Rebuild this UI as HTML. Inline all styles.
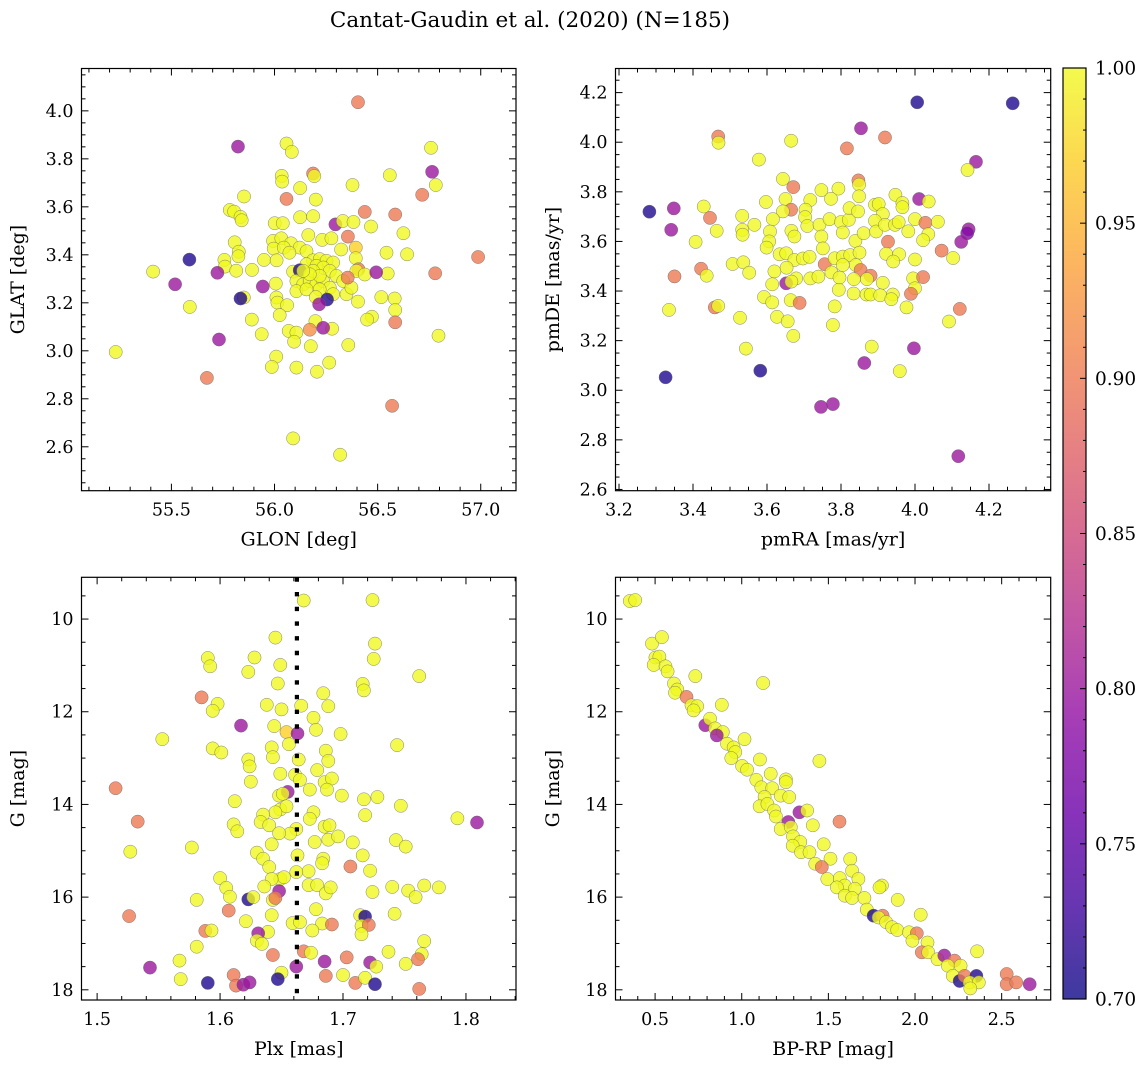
<!DOCTYPE html>
<html><head><meta charset="utf-8">
<style>
html,body{margin:0;padding:0;background:#fff;}
svg{display:block;font-family:"DejaVu Serif","Liberation Serif",serif;}
</style></head>
<body>
<svg id="fig" width="1148" height="1067" viewBox="0 0 1148 1067" xmlns="http://www.w3.org/2000/svg">
<text x="530" y="27" font-size="21.5" text-anchor="middle">Cantat-Gaudin et al. (2020) (N=185)</text>
</svg>
<script>
// ---------- Panel 1: GLON vs GLAT ----------
const p1Glon = [56.405,55.823,56.058,56.084,56.759,56.764,56.187,56.193,56.035,56.037,56.559,56.782,56.378,56.124,55.852,56.058,56.200,56.716,55.783,55.804,55.835,55.841,56.438,56.585,56.124,56.187,56.001,56.040,56.295,56.331,56.383,56.468,56.625,56.164,56.356,56.231,56.276,55.807,
55.993,56.033,56.080,55.996,56.045,56.122,56.155,56.072,56.394,56.323,55.827,55.825,56.543,56.643,55.757,55.760,55.949,56.010,56.187,56.219,56.252,56.284,56.155,56.203,56.236,56.268,56.394,56.407,56.397,56.438,55.814,55.891,56.090,56.122,56.549,56.006,
56.106,56.139,56.171,56.203,56.236,56.268,56.300,56.333,56.106,56.155,56.219,56.284,56.349,56.373,56.355,56.187,56.219,56.171,56.139,
55.851,56.009,56.014,56.061,56.025,56.200,56.405,56.518,56.583,56.585,55.890,55.938,56.472,56.449,56.198,56.171,56.069,56.106,56.095,56.279,56.176,56.358,56.008,55.987,56.106,56.206,56.265,
55.587,56.987,55.411,55.723,56.493,56.779,55.518,55.943,55.835,56.255,56.216,55.589,56.585,56.236,56.795,55.731,55.230,55.672,56.570,56.090,56.318];
const p1Glat = [4.036,3.851,3.864,3.829,3.846,3.746,3.739,3.728,3.729,3.705,3.732,3.691,3.691,3.678,3.643,3.633,3.630,3.650,3.587,3.580,3.558,3.544,3.579,3.568,3.557,3.561,3.532,3.532,3.527,3.541,3.537,3.518,3.490,3.482,3.476,3.462,3.469,3.452,
3.458,3.469,3.448,3.426,3.430,3.430,3.415,3.409,3.430,3.422,3.413,3.394,3.409,3.402,3.379,3.351,3.379,3.377,3.377,3.382,3.375,3.368,3.361,3.354,3.347,3.333,3.386,3.340,3.333,3.318,3.334,3.337,3.330,3.336,3.322,3.280,
3.291,3.277,3.291,3.277,3.291,3.263,3.312,3.291,3.249,3.256,3.256,3.236,3.236,3.263,3.305,3.333,3.312,3.319,3.333,
3.222,3.222,3.201,3.190,3.149,3.224,3.205,3.224,3.218,3.170,3.130,3.069,3.142,3.130,3.124,3.088,3.083,3.076,3.038,3.092,3.019,3.024,2.976,2.933,2.930,2.913,2.951,
3.380,3.391,3.330,3.325,3.327,3.323,3.277,3.268,3.218,3.214,3.194,3.183,3.119,3.096,3.063,3.047,2.995,2.887,2.771,2.635,2.567];
const p1Color = [0.9,0.8,1,1,1,0.8,0.9,1,1,1,1,1,1,1,1,0.9,1,0.9,1,1,1,1,0.9,0.9,1,1,1,1,0.8,1,1,1,1,1,0.9,1,1,1,
1,1,1,1,1,1,1,1,0.97,1,1,1,1,1,1,1,1,1,1,1,1,1,1,1,1,1,1,0.9,1,1,1,1,1,0.71,1,1,
1,1,1,1,1,1,1,1,1,1,1,1,1,1,0.9,1,1,1,1,
1,1,1,1,1,1,1,1,1,1,1,1,1,1,1,0.92,1,1,1,1,1,1,1,1,1,1,1,
0.71,0.9,1,0.8,0.8,0.9,0.8,0.8,0.71,0.71,0.8,1,0.9,0.8,1,0.8,1,0.9,0.9,1,1];

// ---------- Panel 2: pmRA vs pmDE ----------
const p2PmRA = [4.006,4.264,3.854,3.468,3.469,3.665,3.919,3.816,4.165,4.142,3.578,3.643,3.671,3.847,3.849,3.849,3.747,3.793,3.773,3.717,3.597,3.650,3.665,3.643,3.947,3.966,3.966,4.011,4.037,3.282,3.348,3.341,3.429,3.446,3.464,3.407,3.533,3.533,3.534,3.566,3.616,3.608,3.606,3.599,3.666,3.674,3.704,3.703,3.709,3.742,3.747,3.769,3.800,3.821,3.823,3.846,3.805,3.839,3.861,3.892,3.902,3.913,3.892,3.895,3.919,3.946,3.956,3.982,4.000,4.028,4.062,4.036,4.022,3.927,4.072,4.103,4.145,4.141,4.125,4.000,3.507,3.536,3.552,3.422,3.437,3.350,3.634,3.652,3.674,3.697,3.715,3.751,3.756,3.783,3.805,3.825,3.850,3.805,3.840,3.853,3.880,3.922,3.957,3.941,3.620,3.653,3.679,3.652,3.666,3.717,3.739,3.774,3.796,3.835,3.870,3.913,3.995,4.022,4.000,3.614,3.794,3.834,3.869,3.880,3.906,3.940,3.936,3.989,3.592,3.614,3.664,3.688,3.459,3.468,3.335,3.783,3.977,4.121,3.527,3.627,3.656,3.778,4.092,3.671,3.543,3.883,3.997,3.863,3.959,3.582,3.326,3.746,3.778,4.117];
const p2PmDE = [4.161,4.157,4.056,4.023,3.998,4.006,4.019,3.975,3.921,3.888,3.930,3.852,3.819,3.846,3.829,3.782,3.807,3.813,3.772,3.767,3.759,3.771,3.728,3.721,3.788,3.755,3.738,3.771,3.761,3.720,3.733,3.647,3.741,3.695,3.643,3.598,3.703,3.647,3.627,3.667,3.690,3.640,3.600,3.575,3.643,3.620,3.728,3.698,3.662,3.667,3.620,3.690,3.678,3.687,3.734,3.721,3.636,3.602,3.633,3.748,3.751,3.710,3.683,3.640,3.667,3.667,3.678,3.641,3.690,3.675,3.679,3.629,3.605,3.599,3.563,3.533,3.649,3.633,3.598,3.527,3.509,3.516,3.474,3.490,3.462,3.459,3.548,3.552,3.525,3.531,3.538,3.572,3.508,3.532,3.539,3.545,3.555,3.505,3.505,3.485,3.462,3.550,3.548,3.519,3.479,3.494,3.451,3.431,3.438,3.451,3.458,3.475,3.454,3.448,3.448,3.433,3.451,3.456,3.411,3.427,3.405,3.390,3.386,3.386,3.383,3.386,3.367,3.389,3.376,3.354,3.363,3.352,3.334,3.340,3.324,3.338,3.334,3.328,3.292,3.296,3.278,3.263,3.277,3.219,3.168,3.176,3.169,3.110,3.077,3.079,3.052,2.933,2.944,2.734];
const p2Color = [0.71,0.71,0.8,0.9,1,1,0.9,0.9,0.8,1,1,1,0.9,0.9,1,1,1,1,1,1,1,1,0.9,1,1,1,1,0.8,1,0.71,0.8,0.8,1,0.9,1,1,1,1,1,1,1,1,1,1,1,1,1,1,1,1,1,1,1,1,1,1,1,1,1,1,1,1,1,1,1,1,1,1,1,0.9,1,1,1,0.9,0.9,1,0.8,0.78,0.8,1,1,1,1,0.9,1,0.9,1,1,1,1,1,1,0.9,1,1,1,1,1,1,0.9,0.9,1,1,1,1,1,1,0.8,1,1,1,1,1,1,1,1,1,0.9,1,1,1,1,1,1,1,1,1,0.9,1,1,1,0.9,0.9,1,1,1,1,0.9,1,1,1,1,1,1,1,1,0.8,0.8,1,0.71,0.71,0.8,0.8,0.8];

// ---------- Panel 3: Plx vs G ----------
const p3Plx = [1.668,1.724,1.645,1.726,1.725,1.590,1.592,1.628,1.623,1.649,1.762,1.647,1.716,1.717,1.585,1.598,1.594,1.684,1.688,1.638,1.650,1.666,1.617,1.644,1.676,1.678,1.654,1.663,1.698,1.553,1.656,1.594,1.601,1.642,1.643,1.744,1.686,1.688,1.623,1.624,1.664,1.679,1.649,1.625,1.661,1.665,1.685,1.691,1.687,1.515,1.673,1.648,1.655,1.651,1.699,1.717,1.728,1.612,1.747,1.649,1.654,1.645,1.676,1.673,1.635,1.633,1.640,1.718,1.793,1.809,1.533,1.611,1.614,1.662,1.657,1.648,1.685,1.689,1.688,1.696,1.677,1.708,1.743,1.751,1.577,1.527,1.642,1.630,1.635,1.663,1.684,1.683,1.716,1.706,1.640,1.722,1.672,1.662,1.600,1.649,1.652,1.642,1.605,1.608,1.636,1.672,1.679,1.686,1.690,1.648,1.724,1.740,1.753,1.759,1.766,1.778,1.581,1.623,1.627,1.643,1.645,1.526,1.607,1.678,1.642,1.742,1.621,1.659,1.665,1.683,1.691,1.714,1.718,1.715,1.721,1.715,1.588,1.593,1.639,1.631,1.630,1.634,1.675,1.766,1.581,1.643,1.668,1.674,1.737,1.764,1.761,1.567,1.543,1.685,1.703,1.722,1.727,1.751,1.662,1.568,1.590,1.611,1.613,1.619,1.624,1.650,1.647,1.686,1.700,1.710,1.718,1.726,1.762];
const p3G = [9.60,9.59,10.40,10.53,10.86,10.84,11.02,10.83,11.14,10.99,11.23,11.39,11.40,11.54,11.69,11.83,11.98,11.60,11.88,11.85,11.95,11.87,12.30,12.31,12.13,12.39,12.44,12.47,12.48,12.59,12.70,12.79,12.88,12.77,12.98,12.72,12.84,13.06,13.03,13.18,13.03,13.26,13.34,13.51,13.36,13.47,13.52,13.44,13.68,13.65,13.68,13.81,13.73,13.77,13.81,13.89,13.84,13.93,14.03,14.11,14.04,14.17,14.17,14.31,14.22,14.38,14.45,14.23,14.30,14.39,14.37,14.43,14.58,14.53,14.63,14.62,14.48,14.45,14.76,14.69,14.81,14.82,14.77,14.91,14.93,15.02,14.86,15.04,15.17,15.10,15.17,15.27,15.10,15.34,15.35,15.43,15.44,15.46,15.59,15.61,15.57,15.61,15.80,15.99,15.77,15.74,15.74,15.92,15.79,15.87,15.89,15.78,15.86,16.00,15.75,15.79,16.06,16.05,16.00,16.06,16.02,16.41,16.29,16.26,16.39,16.36,16.52,16.56,16.54,16.57,16.59,16.39,16.42,16.62,16.60,16.80,16.73,16.72,16.75,16.78,16.94,17.01,16.72,16.95,17.07,17.25,17.17,17.20,17.18,17.23,17.34,17.37,17.52,17.39,17.30,17.41,17.50,17.44,17.50,17.77,17.85,17.68,17.91,17.89,17.84,17.63,17.77,17.70,17.68,17.85,17.74,17.88,17.98];
const p3Color = [1,1,1,1,1,1,1,1,1,1,1,1,1,1,0.9,1,1,1,1,1,1,1,0.8,1,1,1,0.97,0.8,1,1,1,1,1,1,1,1,1,1,1,1,1,1,1,1,1,1,1,1,1,0.9,1,1,0.8,1,1,1,1,1,1,1,1,1,1,1,1,1,1,1,1,0.8,0.9,1,1,1,1,1,1,1,1,1,1,1,1,1,1,1,1,1,1,1,1,1,1,0.9,1,1,1,1,1,1,1,1,1,1,1,1,1,1,1,0.8,1,1,1,1,1,1,1,0.71,1,1,0.9,0.9,0.9,1,1,1,1,1,1,1,0.9,1,0.71,1,0.9,1,0.9,1,1,0.8,1,1,1,1,1,0.9,0.9,1,1,1,0.9,1,0.8,0.8,0.9,0.8,1,1,0.8,1,0.71,0.9,0.9,0.8,0.8,1,0.71,0.9,1,0.9,1,0.71,0.9,1];

// ---------- Panel 4: BP-RP vs G ----------
const p4Color_bprp = [0.354,0.385,0.482,0.539,0.502,0.525,0.492,0.560,0.572,0.732,1.123,0.609,0.628,0.615,0.681,0.710,0.743,0.722,0.885,0.790,0.817,0.846,0.891,0.856,1.016,0.915,0.953,0.963,0.940,1.105,1.448,1.002,1.031,1.084,1.113,1.167,1.255,1.255,1.176,1.225,1.274,1.132,1.103,1.148,1.187,1.333,1.377,1.564,1.197,1.269,1.225,1.283,1.296,1.338,1.410,1.294,1.342,1.473,1.391,1.512,1.626,1.424,1.462,1.637,1.494,1.566,1.595,1.673,1.653,1.549,1.809,1.795,1.595,1.637,1.708,1.900,1.722,1.761,1.813,1.790,2.033,1.833,1.868,1.897,1.965,2.010,1.985,2.072,2.039,2.076,2.130,2.169,2.228,2.189,2.263,2.358,2.218,2.257,2.286,2.354,2.315,2.368,2.319,2.529,2.529,2.584,2.662];
const p4G = [9.61,9.59,10.53,10.39,10.83,10.81,10.99,11.02,11.13,11.23,11.38,11.39,11.52,11.59,11.68,11.86,11.88,11.97,11.85,12.29,12.15,12.36,12.44,12.51,12.59,12.69,12.77,12.87,13.00,13.03,13.06,13.17,13.25,13.47,13.63,13.34,13.46,13.52,13.65,13.81,13.84,13.84,14.04,13.99,14.13,14.17,14.13,14.37,14.26,14.38,14.53,14.49,14.69,14.81,14.45,14.89,15.03,14.86,15.03,15.17,15.18,15.28,15.35,15.43,15.61,15.59,15.75,15.61,15.82,15.79,15.75,15.79,15.97,16.02,16.02,16.06,16.27,16.40,16.40,16.44,16.38,16.54,16.65,16.71,16.76,16.78,16.94,16.98,17.19,17.19,17.34,17.26,17.37,17.48,17.48,17.17,17.70,17.81,17.70,17.70,17.84,17.84,17.97,17.66,17.88,17.84,17.88];
const p4Color = [1,1,1,1,1,1,1,1,1,1,1,1,1,1,0.9,1,1,1,1,0.8,1,1,1,0.8,1,1,1,1,1,1,1,1,1,1,1,1,1,1,1,1,1,1,1,1,1,0.8,1,0.9,1,0.8,1,1,1,1,1,1,1,1,1,1,1,1,0.9,1,1,1,1,1,1,1,1,1,1,1,1,1,1,0.71,0.9,1,1,1,1,1,1,0.9,1,1,0.9,1,1,0.8,0.9,1,1,1,1,0.71,0.9,0.71,1,1,1,0.9,0.9,0.9,0.8];

// tick definitions
const p1XTicks = [55.5,56.0,56.5,57.0];
const p1YTicks = [2.6,2.8,3.0,3.2,3.4,3.6,3.8,4.0];
const p2XTicks = [3.2,3.4,3.6,3.8,4.0,4.2];
const p2YTicks = [2.6,2.8,3.0,3.2,3.4,3.6,3.8,4.0,4.2];
const p3XTicks = [1.5,1.6,1.7,1.8];
const gTicks = [10,12,14,16,18];
const p4XTicks = [0.5,1.0,1.5,2.0,2.5];
const cbTicks = [0.70,0.75,0.80,0.85,0.90,0.95,1.00];
const plxMean = [1.6625];

const NS = "http://www.w3.org/2000/svg";
const svg = document.getElementById('fig');
function mk(tag, attrs, parent){
  const e = document.createElementNS(NS, tag);
  for (const k in attrs) e.setAttribute(k, attrs[k]);
  (parent||svg).appendChild(e);
  return e;
}
const stops = ["#0d0887","#41049d","#6a00a8","#8f0da4","#b12a90","#cc4778","#e16462","#f2844b","#fca636","#fcce25","#f0f921"];
function hex(h){return [parseInt(h.substr(1,2),16),parseInt(h.substr(3,2),16),parseInt(h.substr(5,2),16)];}
function plasma(v){
  let t = (v-0.7)/0.3; t=Math.max(0,Math.min(1,t));
  const f=t*10, i=Math.min(9,Math.floor(f)), r=f-i;
  const a=hex(stops[i]), b=hex(stops[i+1]);
  return "rgb("+a.map((c,j)=>Math.round(c+(b[j]-c)*r)).join(",")+")";
}

function panel(cfg){
  const {name, x0,x1,y0,y1, xmin,xmax,ymin,ymax, invertY, xs, ys, cs, xt, yt, xminor, yminor, xfmt, yfmt, xlabel, ylabel} = cfg;
  const sx = v => x0 + (v-xmin)/(xmax-xmin)*(x1-x0);
  const sy = invertY ? (v => y0 + (v-ymin)/(ymax-ymin)*(y1-y0)) : (v => y1 - (v-ymin)/(ymax-ymin)*(y1-y0));
  const g = mk('g', {});
  
  
  const clipId = name+'-clip';
  const cp = mk('clipPath',{id:clipId}, g);
  mk('rect',{x:x0,y:y0,width:x1-x0,height:y1-y0},cp);
  const pts = mk('g',{'clip-path':'url(#'+clipId+')'}, g);
  
  
  for (let i=0;i<xs.length;i++){
    const c = mk('circle',{cx:sx(xs[i]).toFixed(1), cy:sy(ys[i]).toFixed(1), r:6.6, fill:plasma(cs[i]), 'fill-opacity':0.8, stroke:'#666', 'stroke-width':0.5, 'stroke-opacity':0.8}, pts);
    
    
  }
  if (cfg.vline){
    const l = mk('line',{x1:sx(cfg.vline[0]),x2:sx(cfg.vline[0]),y1:y0,y2:y1,stroke:'#000','stroke-width':4.2,'stroke-dasharray':'4.4 10.3'}, g);
    
    
  }
  const tk = mk('g',{stroke:'#000','stroke-width':1}, g);
  const lo = Math.ceil(xmin/xminor-1e-6), hi = Math.floor(xmax/xminor+1e-6);
  for (let k=lo;k<=hi;k++){
    const v=k*xminor, px=sx(v);
    const major = xt.some(t=>Math.abs(t-v)<1e-6);
    const L = major?7:4;
    mk('line',{x1:px,x2:px,y1:y1,y2:y1-L},tk);
    mk('line',{x1:px,x2:px,y1:y0,y2:y0+L},tk);
  }
  const ylo = Math.ceil(ymin/yminor-1e-6), yhi = Math.floor(ymax/yminor+1e-6);
  for (let k=ylo;k<=yhi;k++){
    const v=k*yminor, py=sy(v);
    const major = yt.some(t=>Math.abs(t-v)<1e-6);
    const L = major?7:4;
    mk('line',{x1:x0,x2:x0+L,y1:py,y2:py},tk);
    mk('line',{x1:x1,x2:x1-L,y1:py,y2:py},tk);
  }
  for (const v of xt){
    const t = mk('text',{x:sx(v),y:y1+25,'font-size':17.5,'text-anchor':'middle'}, g);
    t.textContent = v.toFixed(xfmt);
    
    
  }
  for (const v of yt){
    const t = mk('text',{x:x0-8,y:sy(v)+6,'font-size':17.5,'text-anchor':'end'}, g);
    t.textContent = v.toFixed(yfmt);
    
    
  }
  mk('rect',{x:x0,y:y0,width:x1-x0,height:y1-y0,fill:'none',stroke:'#000','stroke-width':1.2}, g);
  const xl = mk('text',{x:(x0+x1)/2,y:y1+55,'font-size':19,'text-anchor':'middle'}, g);
  xl.textContent = xlabel;
  
  
  const yx = cfg.ylx;
  const yl = mk('text',{x:yx,y:(y0+y1)/2,'font-size':19,'text-anchor':'middle',transform:'rotate(-90 '+yx+' '+((y0+y1)/2)+')'}, g);
  yl.textContent = ylabel;
  
  
}

panel({name:'glon-glat-panel', x0:81.5,x1:516,y0:68.5,y1:490.7, xmin:55.064,xmax:57.171,ymin:2.417,ymax:4.1765, invertY:false,
  xs:p1Glon, ys:p1Glat, cs:p1Color, xt:p1XTicks, yt:p1YTicks, xminor:0.1, yminor:0.05, xfmt:1, yfmt:1, xlabel:'GLON [deg]', ylabel:'GLAT [deg]', ylx:24});
panel({name:'pm-panel', x0:615.5,x1:1050.7,y0:68.5,y1:490.7, xmin:3.1905,xmax:4.3668,ymin:2.595,ymax:4.2972, invertY:false,
  xs:p2PmRA, ys:p2PmDE, cs:p2Color, xt:p2XTicks, yt:p2YTicks, xminor:0.05, yminor:0.05, xfmt:1, yfmt:1, xlabel:'pmRA [mas/yr]', ylabel:'pmDE [mas/yr]', ylx:559});
panel({name:'plx-g-panel', x0:81.5,x1:516,y0:577.3,y1:1000, xmin:1.4873,xmax:1.8407,ymin:9.099,ymax:18.22, invertY:true,
  xs:p3Plx, ys:p3G, cs:p3Color, xt:p3XTicks, yt:gTicks, xminor:0.02, yminor:0.5, xfmt:1, yfmt:0, xlabel:'Plx [mas]', ylabel:'G [mag]', ylx:24, vline:plxMean});
panel({name:'cmd-panel', x0:615.5,x1:1050.7,y0:577.3,y1:1000, xmin:0.2715,xmax:2.783,ymin:9.099,ymax:18.22, invertY:true,
  xs:p4Color_bprp, ys:p4G, cs:p4Color, xt:p4XTicks, yt:gTicks, xminor:0.1, yminor:0.5, xfmt:1, yfmt:0, xlabel:'BP-RP [mag]', ylabel:'G [mag]', ylx:559});

// colorbar
(function(){
  const cx0=1063, cx1=1086, cy0=68, cy1=999;
  const defs = mk('defs',{});
  const lg = mk('linearGradient',{id:'cbgrad',x1:0,y1:1,x2:0,y2:0}, defs);
  for (let i=0;i<=20;i++){
    const v=0.7+0.3*i/20;
    mk('stop',{offset:(i/20),'stop-color':plasma(v),'stop-opacity':0.8}, lg);
  }
  const g = mk('g',{});
  
  
  mk('rect',{x:cx0,y:cy0,width:cx1-cx0,height:cy1-cy0,fill:'url(#cbgrad)',stroke:'#000','stroke-width':1.2}, g);
  const sy = v => cy1 - (v-0.7)/0.3*(cy1-cy0);
  for (let k=0;k<=30;k++){
    const v=0.7+k*0.01, py=sy(v), major=(k%5===0);
    mk('line',{x1:cx1,x2:cx1-(major?6:3),y1:py,y2:py,stroke:'#000','stroke-width':1}, g);
  }
  for (const v of cbTicks){
    const t = mk('text',{x:cx1+9,y:sy(v)+6.5,'font-size':18.5}, g);
    t.textContent = v.toFixed(2);
    
    
  }
})();
</script>
</body></html>
